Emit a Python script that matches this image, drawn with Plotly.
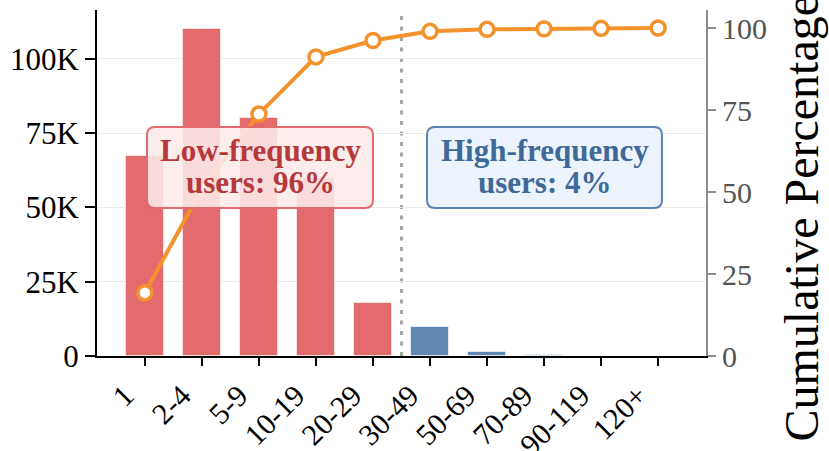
import plotly.graph_objects as go

categories = ["1", "2-4", "5-9", "10-19", "20-29", "30-49", "50-69", "70-89", "90-119", "120+"]
user_counts = [67300, 110100, 80200, 60000, 17900, 9800, 1500, 300, 150, 100]
cumulative_pct = [19.3, 51.0, 73.8, 91.2, 96.2, 99.0, 99.6, 99.8, 99.9, 100.0]
group = ["low"] * 5 + ["high"] * 5
left_tickvals = [0, 25000, 50000, 75000, 100000]
left_ticktext = ["0", "25K", "50K", "75K", "100K"]
right_tickvals = [0, 25, 50, 75, 100]

RED = "#E36B6D"
BLUE = "#6088B3"
ORANGE = "#F3922C"
FONT = "Liberation Serif"

bar_colors = [RED if g == "low" else BLUE for g in group]

fig = go.Figure()
fig.add_trace(go.Bar(
    x=categories, y=user_counts, marker=dict(color=bar_colors, line=dict(color="rgba(255,255,255,0.6)", width=1)),
    width=0.68, yaxis="y", showlegend=False,
))
fig.add_trace(go.Scatter(
    x=categories, y=cumulative_pct, yaxis="y2", mode="lines+markers",
    line=dict(color=ORANGE, width=4),
    marker=dict(symbol="circle", size=14, color="white", line=dict(color=ORANGE, width=3.5)),
    showlegend=False, cliponaxis=False,
))

W, H = 829, 451
L, R, T, B = 97, 123, 10, 95
pw = W - L - R
ph = H - T - B

def px(xp):
    return (xp - L) / pw

def py(yp):
    return (H - B - yp) / ph

def rounded(w, h, r):
    a, b = w / 2, h / 2
    return (f"M {-a + r},{-b} L {a - r},{-b} Q {a},{-b} {a},{-b + r} "
            f"L {a},{b - r} Q {a},{b} {a - r},{b} L {-a + r},{b} Q {-a},{b} {-a},{b - r} "
            f"L {-a},{-b + r} Q {-a},{-b} {-a + r},{-b} Z")

shapes = [
    dict(type="line", xref="x", yref="paper", x0=4.5, x1=4.5, y0=0, y1=1,
         line=dict(color="#A6A6A6", width=3, dash="4px,6.5px"), layer="below"),
    dict(type="path", xref="paper", yref="paper", xsizemode="pixel", ysizemode="pixel",
         xanchor=px(260), yanchor=py(167.5), path=rounded(226, 81, 8),
         fillcolor="rgba(253,235,235,0.88)", line=dict(color="#E36B6D", width=2), layer="above"),
    dict(type="path", xref="paper", yref="paper", xsizemode="pixel", ysizemode="pixel",
         xanchor=px(544.5), yanchor=py(167.5), path=rounded(235, 81, 8),
         fillcolor="rgba(235,242,252,0.92)", line=dict(color="#5B84B1", width=2), layer="above"),
]

LOW_TXT = "#B5393A"
HIGH_TXT = "#3D6A99"
annotations = [
    dict(text="<b>Low-frequency</b>", x=px(260), y=py(150), xref="paper", yref="paper",
         showarrow=False, font=dict(family=FONT, size=31, color=LOW_TXT), xanchor="center", yanchor="middle"),
    dict(text="<b>users: 96%</b>", x=px(260), y=py(182), xref="paper", yref="paper",
         showarrow=False, font=dict(family=FONT, size=31, color=LOW_TXT), xanchor="center", yanchor="middle"),
    dict(text="<b>High-frequency</b>", x=px(544.5), y=py(150), xref="paper", yref="paper",
         showarrow=False, font=dict(family=FONT, size=31, color=HIGH_TXT), xanchor="center", yanchor="middle"),
    dict(text="<b>users: 4%</b>", x=px(544.5), y=py(182), xref="paper", yref="paper",
         showarrow=False, font=dict(family=FONT, size=31, color=HIGH_TXT), xanchor="center", yanchor="middle"),
    dict(text="Cumulative Percentage", x=px(801), y=py(218.5), xref="paper", yref="paper",
         showarrow=False, textangle=-90, font=dict(family=FONT, size=48, color="black"),
         xanchor="center", yanchor="middle"),
]

fig.update_layout(
    width=W, height=H,
    margin=dict(l=L, r=R, t=T, b=B, autoexpand=False),
    plot_bgcolor="white", paper_bgcolor="white",
    font=dict(family=FONT, size=30, color="black"),
    bargap=0,
    xaxis=dict(
        type="category", range=[-0.84, 9.84], tickangle=-45,
        showline=True, linecolor="black", linewidth=2,
        ticks="outside", ticklen=8, tickwidth=2, tickcolor="black",
        ticklabelshift=-20,
        tickfont=dict(family=FONT, size=30, color="black"), showgrid=False,
    ),
    yaxis=dict(
        range=[0, 116400], tickvals=left_tickvals, ticktext=left_ticktext,
        showline=True, linecolor="black", linewidth=2,
        ticks="outside", ticklen=10, tickwidth=2, tickcolor="black",
        tickfont=dict(family=FONT, size=31, color="black"),
        showgrid=True, gridcolor="#EBEBEB", gridwidth=1, zeroline=False,
    ),
    yaxis2=dict(
        range=[0, 105.5], tickvals=right_tickvals, overlaying="y", side="right",
        showline=True, linecolor="#8C8C8C", linewidth=2,
        ticks="outside", ticklen=8, tickwidth=2, tickcolor="#8C8C8C",
        tickfont=dict(family=FONT, size=30, color="#555555"),
        showgrid=False, zeroline=False,
    ),
    shapes=shapes, annotations=annotations,
)

fig.write_html("out.html", config={"displayModeBar": False},
               post_script="document.body.style.margin='0';")
